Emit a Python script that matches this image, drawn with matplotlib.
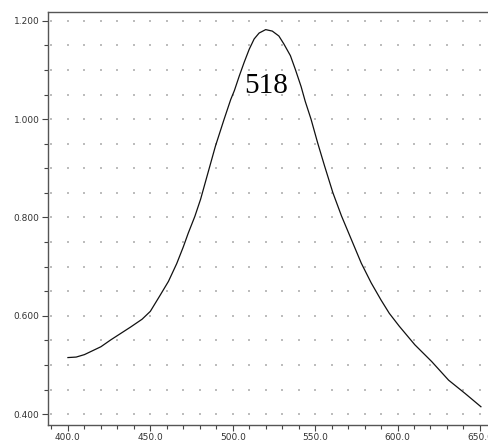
import numpy as np
import matplotlib.pyplot as plt
from matplotlib.ticker import MultipleLocator, FormatStrFormatter

# wavelength (nm) and absorbance
wavelength = [400, 405, 410, 420, 426, 438, 445, 450, 456, 461, 466, 470, 473, 477,
              480.5, 485.5, 489.5, 494.7, 498.8, 501, 504, 507, 510, 513, 516, 520,
              524, 528, 531, 535, 538, 541.5, 544, 547.5, 551.5, 555.7, 560.8, 566,
              572, 578, 584, 590, 595, 601, 610.5, 620.7, 631, 641, 650.6]
absorbance = [0.515, 0.516, 0.521, 0.537, 0.551, 0.577, 0.593, 0.609, 0.642, 0.670,
              0.706, 0.740, 0.768, 0.802, 0.837, 0.897, 0.945, 0.999, 1.040, 1.058,
              1.088, 1.116, 1.142, 1.163, 1.175, 1.182, 1.179, 1.169, 1.153, 1.129,
              1.101, 1.066, 1.036, 1.000, 0.952, 0.905, 0.850, 0.803, 0.755, 0.707,
              0.667, 0.632, 0.605, 0.579, 0.541, 0.507, 0.469, 0.442, 0.415]
peak_label = "518"

fig = plt.figure(figsize=(4.88, 4.41), dpi=100)
ax = fig.add_axes([0.098, 0.036, 0.902, 0.937])

ax.set_xlim(387.8, 654.9)
ax.set_ylim(0.3776, 1.218)

# dotted grid at the minor tick intersections
gx, gy = np.meshgrid(np.arange(390, 655, 10), np.arange(0.40, 1.21, 0.05))
ax.scatter(gx.ravel(), gy.ravel(), s=0.6, color='#bdbdbd', marker='s', linewidths=0, zorder=1)

ax.plot(wavelength, absorbance, color='#111111', lw=0.9, zorder=3)

ax.text(520, 1.067, peak_label, family='Liberation Serif', fontsize=21,
        ha='center', va='center', zorder=4)

ax.xaxis.set_major_locator(MultipleLocator(50))
ax.xaxis.set_minor_locator(MultipleLocator(10))
ax.yaxis.set_major_locator(MultipleLocator(0.2))
ax.yaxis.set_minor_locator(MultipleLocator(0.05))
ax.xaxis.set_major_formatter(FormatStrFormatter('%.1f'))
ax.yaxis.set_major_formatter(FormatStrFormatter('%.3f'))

ax.tick_params(which='major', direction='out', length=4, width=0.8, color='#444444',
               labelsize=6.5, labelcolor='#333333', pad=2)
ax.tick_params(which='minor', direction='out', length=3, width=0.8, color='#444444')

for s in ['left', 'bottom', 'top']:
    ax.spines[s].set_color('#555555')
    ax.spines[s].set_linewidth(1.0)
ax.spines['right'].set_visible(False)

fig.savefig('out.png', dpi=100)
